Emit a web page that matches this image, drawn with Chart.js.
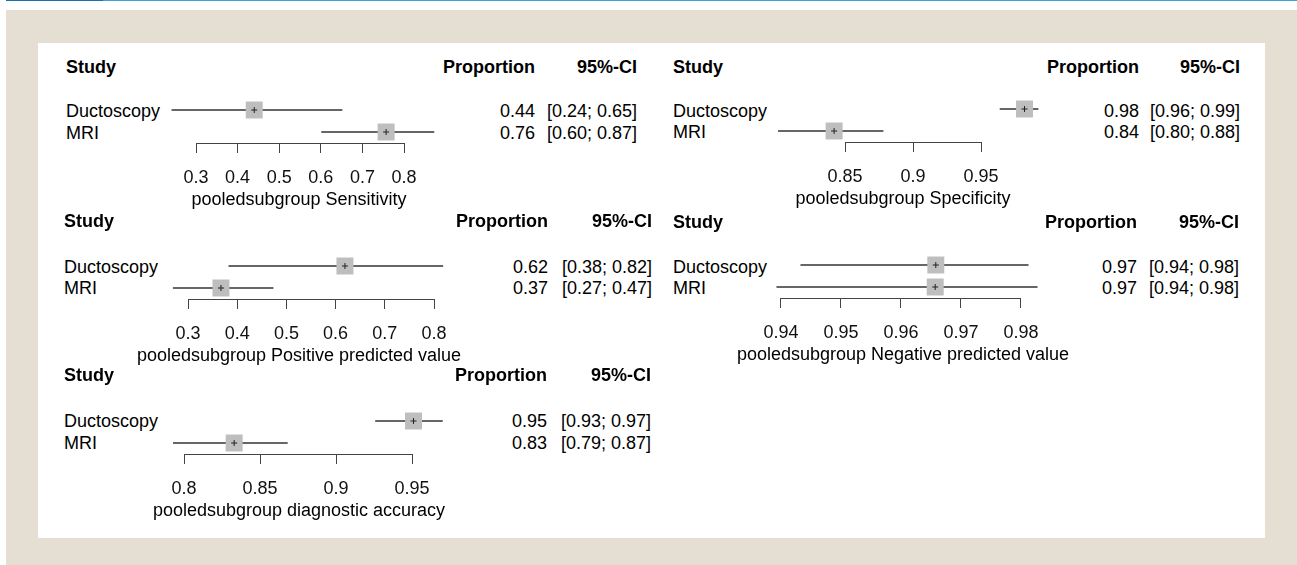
<!DOCTYPE html>
<html><head><meta charset="utf-8">
<script src="https://cdn.jsdelivr.net/npm/chart.js@4.4.1/dist/chart.umd.min.js"></script>
<style>
html,body{margin:0;padding:0;background:#fff;}
body{width:1297px;height:565px;position:relative;overflow:hidden;font-family:"Liberation Sans",Arial,sans-serif;}
#topDark{position:absolute;left:6px;top:0;width:97px;height:1px;background:#1d6fa8;}
#topLight{position:absolute;left:103px;top:0;width:1194px;height:1px;background:#3ca3d8;}
#frame{position:absolute;left:6px;top:10px;right:0;bottom:0;background:#e5dfd3;}
#panel{position:absolute;left:38px;top:43px;width:1227px;height:495px;background:#fff;}
.t{position:absolute;font-size:18px;line-height:20px;color:#000;white-space:nowrap;}
.b{font-weight:bold;}
.r{text-align:right;width:240px;}
canvas{position:absolute;}
</style></head><body>
<div id="topDark"></div><div id="topLight"></div>
<div id="frame"></div><div id="panel"></div>
<script>
// ---- data ----
const studies = ['Ductoscopy', 'MRI'];
const colHeaders = ['Study', 'Proportion', '95%-CI'];

const sensEst = [0.440, 0.757];
const sensLo  = [0.242, 0.602];
const sensHi  = [0.651, 0.872];
const sensTicks = [0.3, 0.4, 0.5, 0.6, 0.7, 0.8];
const sensTitle = 'pooledsubgroup Sensitivity';

const ppvEst = [0.619, 0.367];
const ppvLo  = [0.383, 0.270];
const ppvHi  = [0.818, 0.473];
const ppvTicks = [0.3, 0.4, 0.5, 0.6, 0.7, 0.8];
const ppvTitle = 'pooledsubgroup Positive predicted value';

const accEst = [0.951, 0.833];
const accLo  = [0.926, 0.793];
const accHi  = [0.970, 0.868];
const accTicks = [0.8, 0.85, 0.9, 0.95];
const accTitle = 'pooledsubgroup diagnostic accuracy';

const specEst = [0.982, 0.842];
const specLo  = [0.964, 0.801];
const specHi  = [0.992, 0.878];
const specTicks = [0.85, 0.9, 0.95];
const specTitle = 'pooledsubgroup Specificity';

const npvEst = [0.9658, 0.9657];
const npvLo  = [0.9433, 0.9393];
const npvHi  = [0.9812, 0.9827];
const npvTicks = [0.94, 0.95, 0.96, 0.97, 0.98];
const npvTitle = 'pooledsubgroup Negative predicted value';

// ---- layout (pixel positions) ----
const panels = [
  {est: sensEst, lo: sensLo, hi: sensHi, ticks: sensTicks, title: sensTitle,
   tickPx: [196, 404], axisY: 143, center: 299, textX: 66, headY: 67, rowY: [111, 133], propR: 535, ciR: 637},
  {est: ppvEst, lo: ppvLo, hi: ppvHi, ticks: ppvTicks, title: ppvTitle,
   tickPx: [188, 434], axisY: 299, center: 299, textX: 64, headY: 221, rowY: [267, 288], propR: 548, ciR: 652},
  {est: accEst, lo: accLo, hi: accHi, ticks: accTicks, title: accTitle,
   tickPx: [184, 412], axisY: 454, center: 299, textX: 64, headY: 375, rowY: [421, 443], propR: 547, ciR: 651},
  {est: specEst, lo: specLo, hi: specHi, ticks: specTicks, title: specTitle,
   tickPx: [845, 981], axisY: 142, center: 903, textX: 673, headY: 67, rowY: [111, 132], propR: 1139, ciR: 1240},
  {est: npvEst, lo: npvLo, hi: npvHi, ticks: npvTicks, title: npvTitle,
   tickPx: [781, 1021], axisY: 298, center: 903, textX: 673, headY: 222, rowY: [267, 288], propR: 1137, ciR: 1239}
];

Chart.defaults.font.family = '"Liberation Sans", Arial, sans-serif';
Chart.defaults.font.size = 18;
Chart.defaults.color = '#000';

function addText(txt, x, cy, cls, right) {
  const d = document.createElement('div');
  d.className = 't ' + (cls || '') + (right ? ' r' : '');
  d.textContent = txt;
  d.style.top = (cy - 10) + 'px';
  d.style.left = (right ? x - 240 : x) + 'px';
  document.body.appendChild(d);
}

const axisLine = {
  id: 'axisLine',
  afterDraw(chart) {
    const s = chart.scales.x, tk = s.ticks, ctx = chart.ctx;
    const al = p => Math.round(p - 0.5) + 0.5;
    const y = Math.round(chart.chartArea.bottom) + 0.5;
    ctx.save();
    ctx.strokeStyle = '#444';
    ctx.lineWidth = 1;
    ctx.beginPath();
    ctx.moveTo(al(s.getPixelForValue(tk[0].value)), y);
    ctx.lineTo(al(s.getPixelForValue(tk[tk.length - 1].value)), y);
    ctx.stroke();
    ctx.restore();
  }
};

const HALF = 170, PADX = 40, PADTOP = 6, AREA_H = 44, SCALE_H = 67.8;
const CANVAS_H = PADTOP + AREA_H + SCALE_H + 1.2;
const fmt = v => v.toFixed(2);

panels.forEach(p => {
  // text columns
  addText(colHeaders[0], p.textX, p.headY, 'b', false);
  addText(colHeaders[1], p.propR, p.headY, 'b', true);
  addText(colHeaders[2], p.ciR, p.headY, 'b', true);
  studies.forEach((s, i) => {
    addText(s, p.textX, p.rowY[i], '', false);
    addText(fmt(p.est[i]), p.propR, p.rowY[i], '', true);
    addText('[' + fmt(p.lo[i]) + '; ' + fmt(p.hi[i]) + ']', p.ciR, p.rowY[i], '', true);
  });

  // chart geometry
  const areaL = p.center - HALF, areaR = p.center + HALF;
  const t0 = p.ticks[0], t1 = p.ticks[p.ticks.length - 1];
  const k = (p.tickPx[1] - p.tickPx[0]) / (t1 - t0);
  const xmin = t0 - (p.tickPx[0] - areaL) / k;
  const xmax = t0 + (areaR - p.tickPx[0]) / k;

  const cv = document.createElement('canvas');
  cv.width = 2 * HALF + 2 * PADX;
  cv.height = Math.round(CANVAS_H);
  cv.style.left = (areaL - PADX) + 'px';
  cv.style.top = (p.axisY - AREA_H - PADTOP) + 'px';
  document.body.appendChild(cv);

  const pts = studies.map((s, i) => ({x: p.est[i], y: s}));
  new Chart(cv, {
    type: 'bar',
    data: {
      labels: studies,
      datasets: [
        {type: 'bar', indexAxis: 'y', data: studies.map((s, i) => [p.lo[i], p.hi[i]]),
         backgroundColor: '#333', borderWidth: 0, barThickness: 1, order: 3},
        {type: 'scatter', data: pts, pointStyle: 'rect', pointRadius: 12, pointHoverRadius: 12,
         backgroundColor: '#bebebe', borderWidth: 0, order: 2, clip: false},
        {type: 'scatter', data: pts, pointStyle: 'cross', pointRadius: 3, pointHoverRadius: 3,
         borderColor: '#222', borderWidth: 1, order: 1, clip: false}
      ]
    },
    options: {
      responsive: false,
      animation: false,
      events: [],
      layout: {autoPadding: false,
               padding: {left: PADX, right: PADX, top: PADTOP, bottom: cv.height - PADTOP - AREA_H - SCALE_H}},
      plugins: {legend: {display: false}, tooltip: {enabled: false}},
      scales: {
        x: {
          type: 'linear', min: xmin, max: xmax, position: 'bottom', offset: false,
          afterBuildTicks: s => { s.ticks = p.ticks.map(v => ({value: v})); },
          afterFit: s => { s.paddingLeft = 0; s.paddingRight = 0; s.height = SCALE_H; },
          ticks: {callback: v => String(v), padding: 14, color: '#111', font: {size: 18},
                  maxRotation: 0, autoSkip: false},
          grid: {display: true, offset: false, drawOnChartArea: false, drawTicks: true, tickLength: 10,
                 color: '#444', lineWidth: 1},
          border: {display: false},
          title: {display: true, text: p.title, color: '#000', font: {size: 18},
                  padding: {top: 0, bottom: 0}}
        },
        y: {type: 'category', labels: studies, display: false, offset: true}
      }
    },
    plugins: [axisLine]
  });
});
</script>
</body></html>
